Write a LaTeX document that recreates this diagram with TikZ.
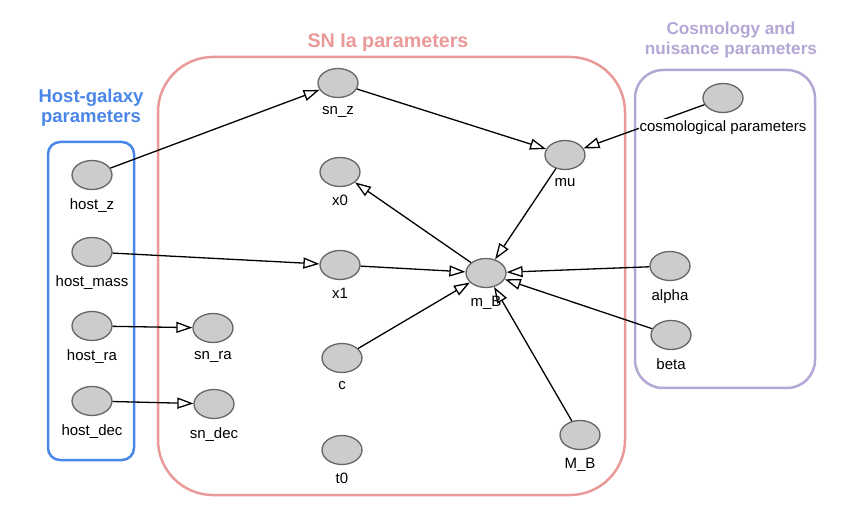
\documentclass[tikz,border=0pt]{standalone}
\usepackage{fontspec}
\setmainfont{Liberation Sans}
\usetikzlibrary{arrows.meta,positioning,shapes.geometric}
\definecolor{hostblue}{HTML}{4A86E8}
\definecolor{snpink}{HTML}{EA9999}
\definecolor{cosmopurple}{HTML}{B4A7D6}
\definecolor{varfill}{HTML}{CCCCCC}
\definecolor{varline}{HTML}{666666}
\tikzset{
  var/.style={
    ellipse,
    draw=varline,
    fill=varfill,
    line width=1.3pt,
    minimum width=40pt,
    minimum height=29pt,
    inner sep=0pt
  },
  varlabel/.style={
    font=\fontsize{15}{17}\selectfont,
    inner sep=1pt
  },
  every label/.style={varlabel},
  group/.style={
    rectangle,
    rounded corners=#1,
    line width=2.5pt,
    inner sep=0pt
  },
  grouptitle/.style={
    font=\fontsize{#1}{20}\selectfont\bfseries,
    align=center
  },
  dep/.style={-{Triangle[open,length=16pt,width=11pt]}, line width=1.3pt}
}

\begin{document}
\begin{tikzpicture}[x=1pt,y=-1pt,label distance=7pt]
  \useasboundingbox (0,0) rectangle (865,510);

  % plates
  \node[group=12pt, draw=hostblue, minimum width=86pt, minimum height=318pt] (hostbox) at (91,301) {};
  \node[group=55pt, draw=snpink, minimum width=467pt, minimum height=438pt] (snbox) at (391.5,276) {};
  \node[group=28pt, draw=cosmopurple, minimum width=180pt, minimum height=318pt] (cosmobox) at (725,229) {};
  \node[grouptitle=18.5, text=hostblue] (hosttitle) at (91,108) {Host-galaxy\\parameters};
  \node[grouptitle=19.7, text=snpink] (sntitle) at (388,43) {SN Ia parameters};
  \node[grouptitle=17.2, text=cosmopurple] (cosmotitle) at (731,40) {Cosmology and\\nuisance parameters};

  % host-galaxy variables
  \node[var, label=below:host\_z] (hostz) at (92,175) {};
  \node[var, label=below:host\_mass] (hostmass) at (92,252) {};
  \node[var, label=below:host\_ra] (hostra) at (92,326) {};
  \node[var, label=below:host\_dec] (hostdec) at (92,401) {};

  % SN Ia variables
  \node[var, label=below:sn\_z] (snz) at (338,83) {};
  \node[var, label=below:sn\_ra] (snra) at (213,328) {};
  \node[var, label=below:sn\_dec] (sndec) at (214,404) {};
  \node[var, label=below:x0] (xzero) at (340,172) {};
  \node[var, label=below:x1] (xone) at (340,265) {};
  \node[var, label=below:c] (c) at (342,358) {};
  \node[var, label=below:t0] (tzero) at (342,450) {};
  \node[var, label=below:mu] (mu) at (565,155) {};
  \node[var, label=below:m\_B] (mB) at (486,273) {};
  \node[var, label=below:M\_B] (MB) at (580,435) {};

  % cosmology and nuisance variables
  \node[var] (cosmo) at (723,98) {};
  \node[var, label=below:alpha] (alpha) at (670,266) {};
  \node[var, label=below:beta] (beta) at (671,335) {};

  \draw[dep] (hostz) -- (snz);
  \draw[dep] (hostmass) -- (xone);
  \draw[dep] (hostra) -- (snra);
  \draw[dep] (hostdec) -- (sndec);
  \draw[dep] (snz) -- (mu);
  \draw[dep] (cosmo) -- (mu);
  \draw[dep] (mB) -- (xzero);
  \draw[dep] (xone) -- (mB);
  \draw[dep] (c) -- (mB);
  \draw[dep] (mu) -- (mB);
  \draw[dep] (alpha) -- (mB);
  \draw[dep] (beta) -- (mB);
  \draw[dep] (MB) -- (mB);

  \node[varlabel, fill=white, below=6pt of cosmo] (cosmolabel) {cosmological parameters};
\end{tikzpicture}
\end{document}
